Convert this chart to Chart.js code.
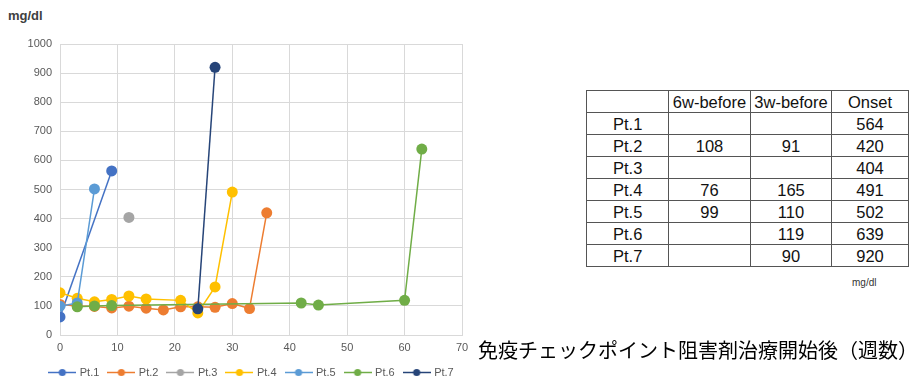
<!DOCTYPE html>
<html>
<head>
<meta charset="utf-8">
<script src="https://cdn.jsdelivr.net/npm/chart.js@4.4.1/dist/chart.umd.min.js"></script>
<style>
  html, body { margin: 0; padding: 0; background: #fff; width: 910px; height: 383px; overflow: hidden;
    font-family: "Liberation Sans", Arial, sans-serif; }
  #chartBox { position: absolute; left: 0; top: 0; width: 493px; height: 388px; }
  #unit { position: absolute; left: 8px; top: 8px; font-size: 13px; font-weight: bold; color: #404040; }
  #xTitle { position: absolute; left: 478px; top: 340px; font-family: "Noto Sans CJK JP", sans-serif;
    font-size: 20px; line-height: 20px; color: #000; white-space: nowrap; z-index: 2; }
  #onsetTable { position: absolute; left: 586px; top: 90px; border-collapse: collapse; table-layout: fixed;
    font-size: 16.5px; color: #111; }
  #onsetTable td { border: 1px solid #555; height: 21px; padding: 0; text-align: center; line-height: 18px;
    white-space: nowrap; }
  #onsetTable td.rowHead { text-align: left; padding-left: 26px; }
  #tableUnit { position: absolute; left: 852px; top: 277px; font-size: 10px; color: #333; }
</style>
</head>
<body>
<div id="unit">mg/dl</div>
<div id="chartBox"><canvas id="chart" width="493" height="388"></canvas></div>
<div id="xTitle">免疫チェックポイント阻害剤治療開始後（週数）</div>
<table id="onsetTable"></table>
<div id="tableUnit">mg/dl</div>

<script>
// Patients and their blood glucose (mg/dl) by week since the start of ICI therapy
const patientNames = ['Pt.1', 'Pt.2', 'Pt.3', 'Pt.4', 'Pt.5', 'Pt.6', 'Pt.7'];
const patientColors = ['#4472C4', '#ED7D31', '#A5A5A5', '#FFC000', '#5B9BD5', '#70AD47', '#264478'];

const pt1Weeks = [0, 9];
const pt1Glucose = [62, 564];
const pt2Weeks = [0, 3, 6, 9, 12, 15, 18, 21, 24, 27, 30, 33, 36];
const pt2Glucose = [105, 100, 98, 93, 99, 92, 86, 97, 97, 95, 108, 91, 420];
const pt3Weeks = [12];
const pt3Glucose = [404];
const pt4Weeks = [0, 3, 6, 9, 12, 15, 21, 24, 27, 30];
const pt4Glucose = [145, 126, 114, 122, 134, 124, 119, 76, 165, 491];
const pt5Weeks = [0, 3, 6];
const pt5Glucose = [99, 110, 502];
const pt6Weeks = [3, 6, 9, 42, 45, 60, 63];
const pt6Glucose = [97, 100, 101, 110, 103, 119, 639];
const pt7Weeks = [24, 27];
const pt7Glucose = [90, 920];

const xTicks = [0, 10, 20, 30, 40, 50, 60, 70];
const yTicks = [0, 100, 200, 300, 400, 500, 600, 700, 800, 900, 1000];
const tableHeaders = ['', '6w-before', '3w-before', 'Onset'];

const allWeeks = [pt1Weeks, pt2Weeks, pt3Weeks, pt4Weeks, pt5Weeks, pt6Weeks, pt7Weeks];
const allGlucose = [pt1Glucose, pt2Glucose, pt3Glucose, pt4Glucose, pt5Glucose, pt6Glucose, pt7Glucose];

// Onset is the last measurement; the table looks back 6 and 3 weeks from it
function valueAt(weeks, values, week) {
  const i = weeks.indexOf(week);
  return i >= 0 ? String(values[i]) : '';
}
const onsetTable = document.getElementById('onsetTable');
const colWidths = [82, 82, 81, 77];
const colgroup = document.createElement('colgroup');
colWidths.forEach(w => { const c = document.createElement('col'); c.style.width = w + 'px'; colgroup.appendChild(c); });
onsetTable.appendChild(colgroup);
const headRow = onsetTable.insertRow();
tableHeaders.forEach(h => { headRow.insertCell().textContent = h; });
patientNames.forEach((name, p) => {
  const weeks = allWeeks[p], values = allGlucose[p];
  const onsetWeek = weeks[weeks.length - 1];
  const row = onsetTable.insertRow();
  const head = row.insertCell(); head.textContent = name; head.className = 'rowHead';
  row.insertCell().textContent = valueAt(weeks, values, onsetWeek - 6);
  row.insertCell().textContent = valueAt(weeks, values, onsetWeek - 3);
  row.insertCell().textContent = String(values[values.length - 1]);
});

// Legend swatch: short line with a dot in the middle
function legendSwatch(color) {
  const c = document.createElement('canvas');
  c.width = 28; c.height = 11;
  const g = c.getContext('2d');
  g.strokeStyle = color; g.lineWidth = 1.5;
  g.beginPath(); g.moveTo(0, 5.5); g.lineTo(28, 5.5); g.stroke();
  g.fillStyle = color;
  g.beginPath(); g.arc(14, 5.5, 3.6, 0, Math.PI * 2); g.fill();
  return c;
}
const swatches = patientColors.map(legendSwatch);

const datasets = patientNames.map((name, p) => ({
  label: name,
  data: allWeeks[p].map((w, i) => ({ x: w, y: allGlucose[p][i] })),
  borderColor: patientColors[p],
  backgroundColor: patientColors[p],
  borderWidth: 1.5,
  pointRadius: 5.5,
  pointBorderWidth: 0,
  pointHoverRadius: 5.5,
  order: patientNames.length - p  // later patients drawn on top
}));

const tickFont = { family: '"Liberation Sans", Arial, sans-serif', size: 11 };
const gridColor = '#d9d9d9';

// Nudge the legend row to the right so it sits under the whole figure
const legendShift = {
  id: 'legendShift',
  afterLayout(chart) {
    if (chart.legend) { chart.legend.left += 21; chart.legend.right += 21; }
  }
};

new Chart(document.getElementById('chart'), {
  type: 'line',
  data: { datasets },
  plugins: [legendShift],
  options: {
    responsive: false,
    animation: false,
    devicePixelRatio: 1,
    layout: { padding: { top: 44, right: 31, bottom: 0, left: 0 } },
    scales: {
      x: {
        type: 'linear', min: xTicks[0], max: xTicks[xTicks.length - 1],
        afterBuildTicks: s => { s.ticks = xTicks.map(v => ({ value: v })); },
        afterFit: s => { s.height = 22; },
        ticks: { font: tickFont, color: '#595959', padding: 6, maxRotation: 0, callback: v => String(v) },
        grid: { color: gridColor, lineWidth: 1, drawTicks: false },
        border: { color: gridColor }
      },
      y: {
        type: 'linear', min: yTicks[0], max: yTicks[yTicks.length - 1],
        afterBuildTicks: s => { s.ticks = yTicks.map(v => ({ value: v })); },
        afterFit: s => { s.width = 60; },
        ticks: { font: tickFont, color: '#595959', padding: 8, callback: v => String(v) },
        grid: { color: gridColor, lineWidth: 1, drawTicks: false },
        border: { color: gridColor }
      }
    },
    plugins: {
      tooltip: { enabled: false },
      legend: {
        position: 'bottom',
        labels: {
          font: tickFont, color: '#595959', usePointStyle: true, pointStyleWidth: 24, padding: 10,
          generateLabels: chart => chart.data.datasets.map((d, i) => ({
            text: d.label, pointStyle: swatches[i], fillStyle: patientColors[i],
            strokeStyle: patientColors[i], lineWidth: 0, hidden: false, datasetIndex: i, fontColor: '#595959'
          }))
        }
      }
    }
  }
});
</script>
</body>
</html>
